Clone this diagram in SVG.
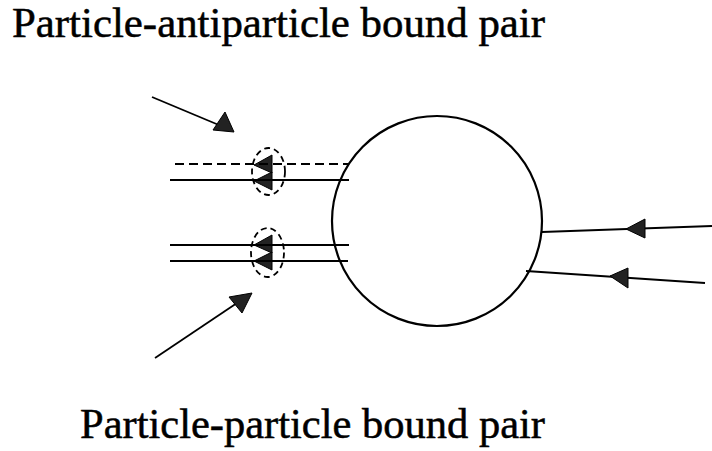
<svg xmlns="http://www.w3.org/2000/svg" width="712" height="451" viewBox="0 0 712 451">
<style>
.lbl{font-family:"Liberation Serif","Times New Roman",serif;font-size:42px;fill:#000;stroke:#000;stroke-width:0.5}
.ln{stroke:#000;stroke-width:1.8;fill:none}
.dash{stroke-dasharray:9 5}
.edash{stroke:#000;stroke-width:1.8;fill:none;stroke-dasharray:6 4}
.tri{fill:#222;stroke:#000;stroke-width:1}
</style>
<rect width="712" height="451" fill="#fff"/>
<g id="label-top"><text class="lbl" x="12" y="37" textLength="533" lengthAdjust="spacingAndGlyphs">Particle-antiparticle bound pair</text></g>
<g id="label-bottom"><text class="lbl" x="80" y="438" textLength="465" lengthAdjust="spacingAndGlyphs">Particle-particle bound pair</text></g>
<g id="sphere"><circle cx="437" cy="221" r="105" fill="none" stroke="#000" stroke-width="2.2"/></g>
<g id="pair-antiparticle">
<ellipse class="edash" cx="268.5" cy="171.5" rx="16.5" ry="23.5"/>
<polygon class="tri" points="254,165 272,155 272,173"/>
<polygon class="tri" points="254,181 272,172 272,190"/>
</g>
<g id="pair-particle">
<ellipse class="edash" cx="267.5" cy="252.5" rx="16.5" ry="24.5"/>
<polygon class="tri" points="254,245 272,235 272,253"/>
<polygon class="tri" points="254,261 272,252 272,270"/>
</g>
<g id="connectors">
<line class="ln dash" x1="175" y1="164" x2="348" y2="164"/>
<line class="ln" x1="170" y1="180" x2="349" y2="180"/>
<line class="ln" x1="170" y1="245" x2="349" y2="245"/>
<line class="ln" x1="170" y1="261" x2="348" y2="261"/>
<line class="ln" x1="542" y1="232" x2="712" y2="226"/>
<polygon class="tri" points="626,229 645,219 645,238"/>
<line class="ln" x1="526" y1="271" x2="705" y2="283"/>
<polygon class="tri" points="610,276 628,268 628,288"/>
<line class="ln" x1="152" y1="97" x2="226" y2="128"/>
<polygon class="tri" points="234,132 225,112 213,130"/>
<line class="ln" x1="155" y1="358" x2="240" y2="301"/>
<polygon class="tri" points="252,293 229,297 242,313"/>
</g>
</svg>
